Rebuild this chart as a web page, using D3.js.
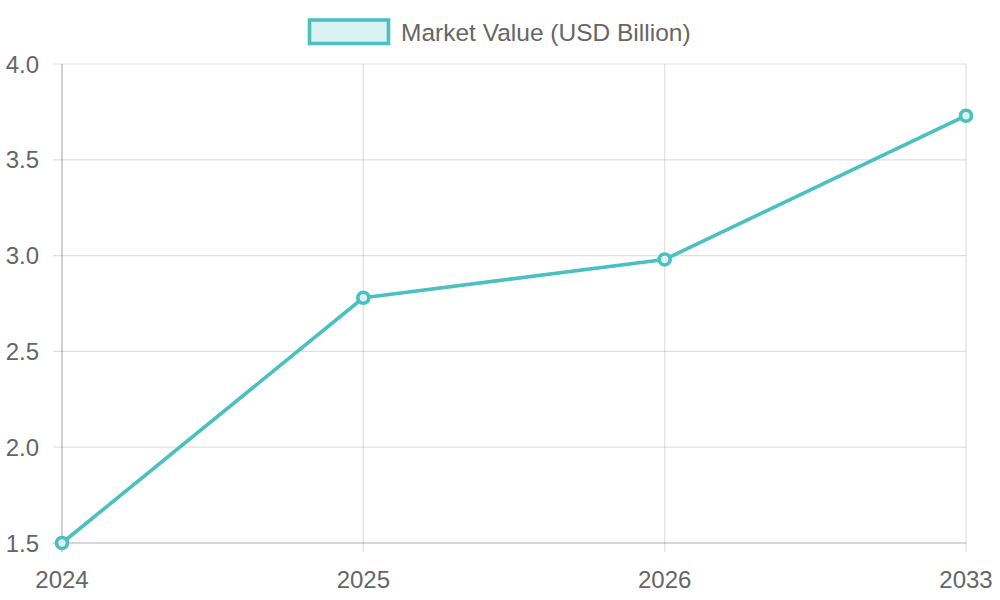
<!DOCTYPE html>
<html><head><meta charset="utf-8">
<script src="https://cdn.jsdelivr.net/npm/d3@7"></script>
<style>body{margin:0;background:#fff}svg{display:block}text{font-family:"Liberation Sans",Arial,sans-serif;fill:#666}</style>
</head><body><svg id="c" width="1000" height="600"></svg>
<script>
const years = ["2024","2025","2026","2033"];
const values = [1.5, 2.78, 2.98, 3.73];
const yTicks = [1.5, 2.0, 2.5, 3.0, 3.5, 4.0];
const seriesName = "Market Value (USD Billion)";

const svg = d3.select("#c");
const m = {l:62, r:966, t:64, b:543};
const x = d3.scalePoint().domain(years).range([m.l, m.r]);
const y = d3.scaleLinear().domain([1.5, 4.0]).range([m.b, m.t]);
const col = "rgb(75,192,192)", fillc = "rgba(75,192,192,0.2)";

// grid
const g = svg.append("g");
g.selectAll(".gx").data(years).join("line")
  .attr("x1", d=>x(d)).attr("x2", d=>x(d)).attr("y1", m.t).attr("y2", m.b+9)
  .attr("stroke", "rgba(0,0,0,0.12)").attr("stroke-width", 1.2);
g.selectAll(".gy").data(yTicks).join("line")
  .attr("x1", m.l-9).attr("x2", m.r).attr("y1", d=>y(d)).attr("y2", d=>y(d))
  .attr("stroke", "rgba(0,0,0,0.12)").attr("stroke-width", 1.2);
// axis borders
g.append("line").attr("x1", m.l).attr("x2", m.l).attr("y1", m.t).attr("y2", m.b+9).attr("stroke","rgba(0,0,0,0.2)").attr("stroke-width",1.2);
g.append("line").attr("x1", m.l-9).attr("x2", m.r).attr("y1", m.b).attr("y2", m.b).attr("stroke","rgba(0,0,0,0.2)").attr("stroke-width",1.2);

// labels
svg.selectAll(".yl").data(yTicks).join("text")
  .attr("x", 39).attr("y", d=>y(d)).attr("text-anchor","end").attr("dominant-baseline","central")
  .attr("font-size", 24).text(d=>d.toFixed(1));
svg.selectAll(".xl").data(years).join("text")
  .attr("x", d=>x(d)).attr("y", 588).attr("text-anchor","middle")
  .attr("font-size", 24).text(d=>d);

// line
const line = d3.line().x((d,i)=>x(years[i])).y(d=>y(d));
svg.append("path").datum(values).attr("d", line).attr("fill","none")
  .attr("stroke", col).attr("stroke-width", 3.6).attr("stroke-linejoin","round");
svg.selectAll(".pt").data(values).join("circle")
  .attr("cx", (d,i)=>x(years[i])).attr("cy", d=>y(d)).attr("r", 5.5)
  .attr("fill", "#fff").attr("stroke", col).attr("stroke-width", 3.6);
svg.selectAll(".pt2").data(values).join("circle")
  .attr("cx", (d,i)=>x(years[i])).attr("cy", d=>y(d)).attr("r", 5.5)
  .attr("fill", fillc);

// legend
svg.append("rect").attr("x", 309.5).attr("y", 20).attr("width", 79).attr("height", 23.5)
  .attr("fill", fillc).attr("stroke", col).attr("stroke-width", 3.6);
svg.append("text").attr("x", 401).attr("y", 32).attr("dominant-baseline","central")
  .attr("font-size", 24.5).text(seriesName);
</script></body></html>
